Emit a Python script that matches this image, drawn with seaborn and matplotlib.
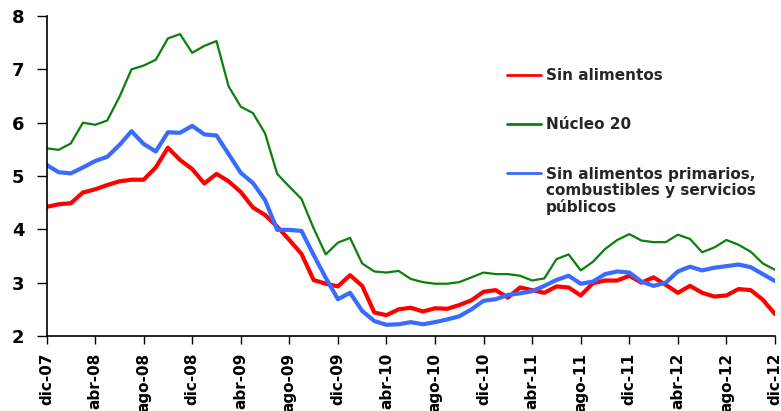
import matplotlib
matplotlib.use("Agg")
import matplotlib.pyplot as plt
from matplotlib.transforms import IdentityTransform
import seaborn as sns
import pandas as pd

# ---- data (monthly, dic-07 .. dic-12) ----
sin_alimentos = [4.42, 4.47, 4.49, 4.69, 4.75, 4.83, 4.90, 4.93, 4.93, 5.16, 5.53, 5.30,
                 5.13, 4.86, 5.04, 4.90, 4.70, 4.41, 4.27, 4.05, 3.80, 3.54,
                 3.05, 2.98, 2.93, 3.14, 2.94, 2.44, 2.39, 2.50, 2.53, 2.46, 2.52, 2.51,
                 2.58, 2.67, 2.83, 2.86, 2.72, 2.91,
                 2.86, 2.81, 2.93, 2.91, 2.76, 2.99, 3.04, 3.04, 3.13, 3.00, 3.10, 2.96,
                 2.81, 2.94, 2.81, 2.74, 2.76, 2.88, 2.86, 2.68, 2.41]
nucleo_20 = [5.52, 5.49, 5.61, 6.00, 5.96, 6.04, 6.48, 7.00, 7.07, 7.18, 7.58, 7.66,
             7.31, 7.44, 7.53, 6.68, 6.30, 6.18,
             5.80, 5.04, 4.80, 4.57, 4.02, 3.53, 3.75, 3.84, 3.36, 3.21, 3.19, 3.22,
             3.07, 3.01, 2.98, 2.98, 3.01, 3.10, 3.19, 3.16, 3.16,
             3.13, 3.04, 3.08, 3.44, 3.53, 3.23, 3.39, 3.63, 3.80, 3.91, 3.79, 3.76,
             3.76, 3.90, 3.82, 3.57, 3.66, 3.80, 3.71, 3.58, 3.36, 3.24]
sin_primarios = [5.21, 5.07, 5.05, 5.16, 5.28, 5.36, 5.58, 5.84, 5.60, 5.46, 5.82, 5.81,
                 5.94, 5.78, 5.76, 5.41, 5.06, 4.87, 4.55, 3.99, 3.99, 3.97,
                 3.52, 3.09, 2.69, 2.81, 2.47, 2.28, 2.21, 2.22, 2.26, 2.22, 2.26, 2.31,
                 2.37, 2.50, 2.66, 2.69, 2.77, 2.80,
                 2.84, 2.94, 3.05, 3.13, 2.98, 3.02, 3.16, 3.21, 3.19, 3.02, 2.94, 3.00,
                 3.21, 3.30, 3.23, 3.28, 3.31, 3.34, 3.29, 3.16, 3.03]

series_names = ["Sin alimentos", "Núcleo 20", "Sin alimentos primarios,"]
label_continuation = "combustibles y servicios\npúblicos"
tick_labels = ["dic-07", "abr-08", "ago-08", "dic-08", "abr-09", "ago-09", "dic-09",
               "abr-10", "ago-10", "dic-10", "abr-11", "ago-11", "dic-11", "abr-12",
               "ago-12", "dic-12"]
y_ticks = [2, 3, 4, 5, 6, 7, 8]

months = list(range(len(sin_alimentos)))
df = pd.concat([
    pd.DataFrame({"mes": months, "valor": sin_alimentos, "serie": series_names[0]}),
    pd.DataFrame({"mes": months, "valor": nucleo_20, "serie": series_names[1]}),
    pd.DataFrame({"mes": months, "valor": sin_primarios, "serie": series_names[2]}),
])

sns.set_style("ticks")
plt.rcParams['font.family'] = ['DejaVu Sans']

fig = plt.figure(figsize=(7.81, 4.11), dpi=100)
ax = fig.add_axes([46.5 / 781, 1 - 336 / 411, (775 - 46.5) / 781, (336 - 16) / 411])

palette = {series_names[0]: "#FF0000", series_names[1]: "#0A800A", series_names[2]: "#3A6BFF"}
sizes = {series_names[0]: 3.0, series_names[1]: 1.6, series_names[2]: 3.0}
sns.lineplot(data=df, x="mes", y="valor", hue="serie", size="serie",
             palette=palette, sizes=sizes, hue_order=series_names, size_order=series_names,
             ax=ax, legend=True)

ax.set_xlim(0, len(months) - 1)
ax.set_ylim(2, 8)
ax.set_yticks(y_ticks)
ax.set_yticklabels([str(v) for v in y_ticks], fontsize=13, fontweight="bold")
ax.set_xticks(list(range(0, len(months), 4)))
ax.set_xticklabels(tick_labels, rotation=90, fontsize=11, fontweight="bold")
ax.set_xlabel("")
ax.set_ylabel("")
ax.tick_params(axis="y", length=7, width=1, pad=9, colors="black")
ax.tick_params(axis="x", length=6, width=1, pad=6, colors="black")
for s in ["top", "right"]:
    ax.spines[s].set_visible(False)
for s in ["left", "bottom"]:
    ax.spines[s].set_color("black")
    ax.spines[s].set_linewidth(1.2)

handles, labels = ax.get_legend_handles_labels()
leg = ax.legend(handles=handles, labels=labels, loc="upper left",
                bbox_to_anchor=(507 / 781, 1 - 68 / 411), bbox_transform=fig.transFigure,
                frameon=False, borderpad=0, borderaxespad=0, handlelength=2.2,
                handletextpad=0.35, labelspacing=2.25,
                prop={"size": 11, "weight": "bold"})
for line in leg.get_lines():
    line.set_linewidth(2.0)

# continuation lines of the third legend label, placed right under its first line
fig.canvas.draw()
bb = leg.get_texts()[2].get_window_extent()
fig.text(bb.x0, bb.y0 - 1, label_continuation, transform=IdentityTransform(),
         ha="left", va="top", fontsize=11, fontweight="bold", linespacing=1.1)

fig.savefig("out.png", dpi=100)
